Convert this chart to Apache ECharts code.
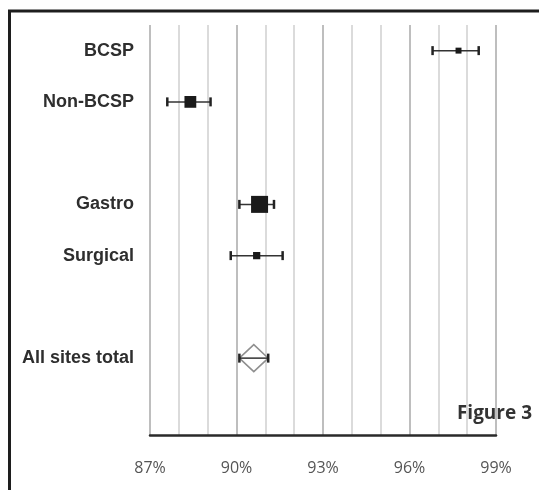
<!DOCTYPE html>
<html>
<head>
<meta charset="utf-8">
<script src="https://cdn.jsdelivr.net/npm/echarts@6/dist/echarts.min.js"></script>
<style>
  html, body { margin: 0; padding: 0; background: #fff; }
  #chart { width: 539px; height: 490px; }
</style>
</head>
<body>
<div id="chart"></div>
<script>
// Forest plot: proportion per group with confidence interval
const categories = ['BCSP', 'Non-BCSP', '', 'Gastro', 'Surgical', '', 'All sites total', ''];
const estimate = [97.7, 88.4, null, 90.8, 90.7, null, 90.6];
const lower    = [96.8, 87.6, null, 90.1, 89.8, null, 90.1];
const upper    = [98.4, 89.1, null, 91.3, 91.6, null, 91.1];
// relative weight of each group (box area); pooled total is drawn as a diamond
const weight   = [0.15, 0.6, null, 1.0, 0.25, null, null];
const isTotal  = [false, false, null, false, false, null, true];
const tickValues = [87, 90, 93, 96, 99];

const rows = [];
estimate.forEach(function (v, i) {
  if (v == null) return;
  rows.push([i, lower[i], v, upper[i], weight[i] == null ? 0 : weight[i], isTotal[i] ? 1 : 0]);
});

function renderItem(params, api) {
  const cat = api.value(0);
  const pLo = api.coord([api.value(1), cat]);
  const pMid = api.coord([api.value(2), cat]);
  const pHi = api.coord([api.value(3), cat]);
  const w = api.value(4);
  const total = api.value(5) === 1;
  const y = pMid[1];
  const capH = 9;
  const children = [];
  if (total) {
    const dh = 13.5;
    children.push({
      type: 'polygon',
      shape: { points: [[pLo[0], y], [pMid[0], y - dh], [pHi[0], y], [pMid[0], y + dh]] },
      style: { fill: '#fff', stroke: '#8f8f8f', lineWidth: 1.5 }
    });
  }
  children.push({
    type: 'line',
    shape: { x1: pLo[0], y1: y, x2: pHi[0], y2: y },
    style: { stroke: '#333', lineWidth: 1.5 }
  });
  children.push({
    type: 'line',
    shape: { x1: pLo[0], y1: y - capH / 2, x2: pLo[0], y2: y + capH / 2 },
    style: { stroke: '#222', lineWidth: 2.5 }
  });
  children.push({
    type: 'line',
    shape: { x1: pHi[0], y1: y - capH / 2, x2: pHi[0], y2: y + capH / 2 },
    style: { stroke: '#222', lineWidth: 2.5 }
  });
  if (!total) {
    const s = 4 + w * 13;
    children.push({
      type: 'rect',
      shape: { x: pMid[0] - s / 2, y: y - s / 2, width: s, height: s },
      style: { fill: '#1a1a1a' }
    });
  }
  return { type: 'group', children: children };
}

const chart = echarts.init(document.getElementById('chart'));
chart.setOption({
  backgroundColor: '#fff',
  animation: false,
  grid: { left: 150, right: 43, top: 25, bottom: 55 },
  xAxis: {
    type: 'value',
    min: 87,
    max: 99,
    interval: 1,
    axisLine: { show: true, onZero: false, lineStyle: { color: '#2a2a2a', width: 2.5 } },
    axisTick: { show: false },
    splitLine: { show: true, lineStyle: { color: ['#a9a9a9', '#cfcfcf', '#cfcfcf'], width: 1.5 } },
    axisLabel: {
      margin: 25,
      color: '#555',
      fontFamily: 'Open Sans',
      fontSize: 16,
      formatter: function (v) { return tickValues.indexOf(v) >= 0 ? v + '%' : ''; }
    }
  },
  yAxis: {
    type: 'category',
    data: categories,
    inverse: true,
    axisLine: { show: false },
    axisTick: { show: false },
    splitLine: { show: false },
    axisLabel: {
      margin: 16,
      color: '#2e2e2e',
      fontFamily: 'Liberation Sans',
      fontWeight: 'bold',
      fontSize: 18
    }
  },
  series: [{
    type: 'custom',
    renderItem: renderItem,
    encode: { x: [1, 2, 3], y: 0 },
    data: rows
  }],
  graphic: [
    { type: 'line', shape: { x1: 8, y1: 11, x2: 539, y2: 11 }, style: { stroke: '#1e1e1e', lineWidth: 3 } },
    { type: 'line', shape: { x1: 9.5, y1: 10, x2: 9.5, y2: 490 }, style: { stroke: '#1e1e1e', lineWidth: 3 } },
    {
      type: 'text',
      right: 5,
      top: 403,
      style: {
        text: 'Figure 3',
        fontFamily: 'Open Sans',
        fontWeight: 'bold',
        fontSize: 19,
        fill: '#333',
        backgroundColor: '#fff',
        padding: [1, 2]
      }
    }
  ]
});
</script>
</body>
</html>
